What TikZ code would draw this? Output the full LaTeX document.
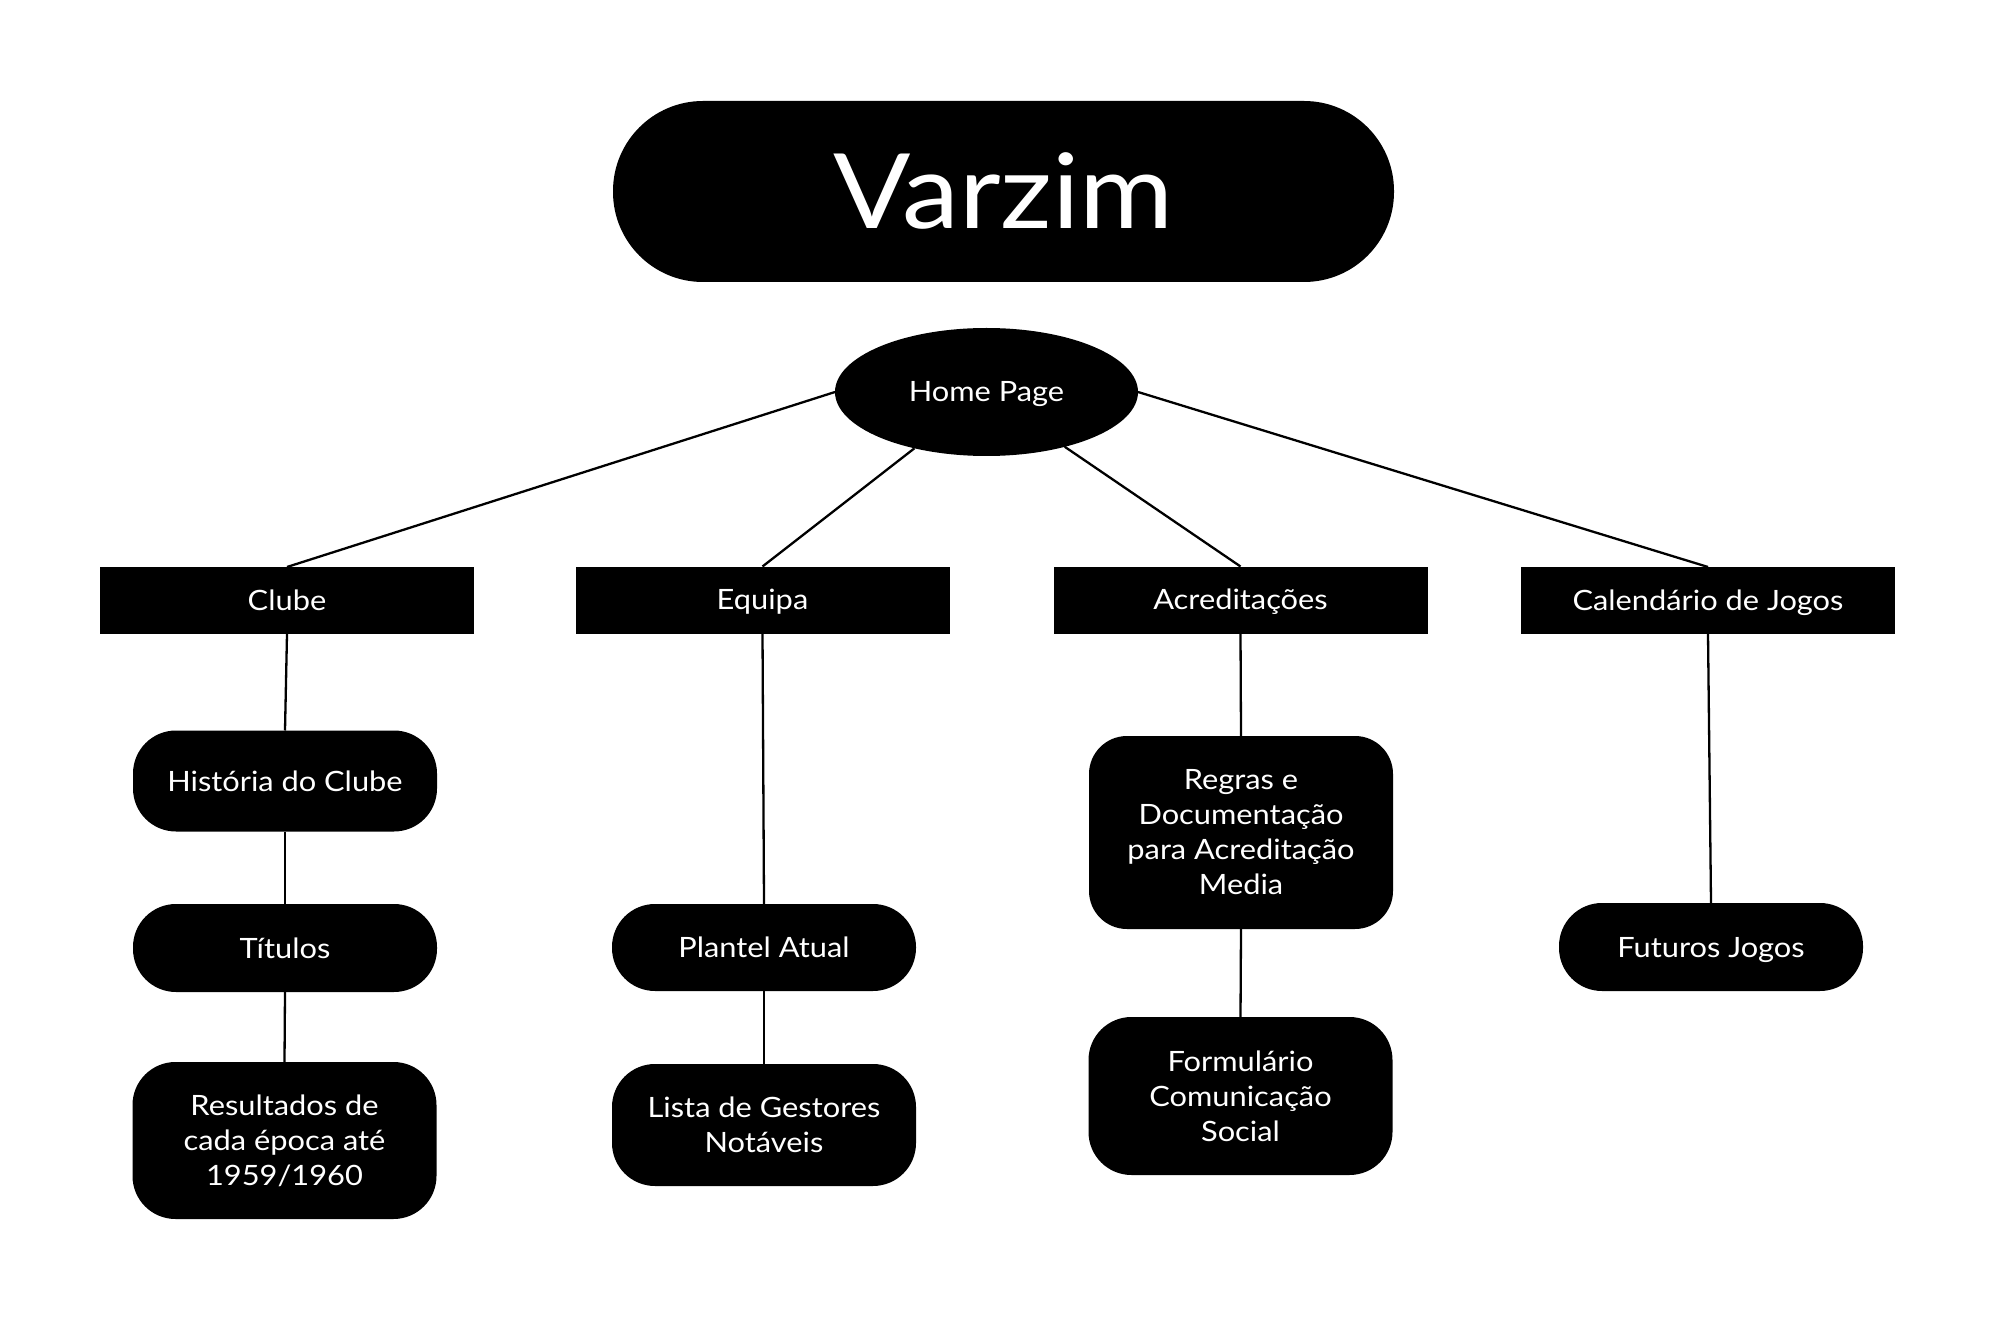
\documentclass[tikz,border=0pt]{standalone}
\usepackage{fontspec}
\setmainfont{Lato}[FakeStretch=1.1]
\usetikzlibrary{shapes.geometric}
\begin{document}
\begin{tikzpicture}[x=0.5pt,y=-0.5pt,
  base/.style={fill=black,text=white,inner sep=0pt,outer sep=0pt,align=center,font=\fontsize{14}{17.5}\selectfont},
  one/.style={text height=10pt,text depth=0pt},
  titlebox/.style={base,rectangle,rounded corners=45pt,minimum width=390.5pt,minimum height=90.5pt,font=\fontsize{52}{60}\selectfont,text height=37.3pt,text depth=0pt},
  hub/.style={base,ellipse,minimum width=151.5pt,minimum height=64pt},
  cat/.style={base,rectangle,minimum width=187pt,minimum height=33.5pt},
  leaf/.style={base,rectangle,rounded corners=21.5pt,minimum width=152pt},
  link/.style={line width=1.15pt,black}
]
\useasboundingbox (0,0) rectangle (1996,1320);
\fill[white] (0,0) rectangle (1996,1320);

\node[titlebox] (varzim) at (1003.5,191.5) {Varzim};
\node[hub,one] (home) at (986.5,392) {Home Page};

\node[cat,one] (clube) at (287,600.5) {Clube};
\node[cat,one] (equipa) at (762.5,600) {Equipa};
\node[cat,one] (acred) at (1240.5,600) {Acreditações};
\node[cat,one] (cal) at (1708,600.5) {Calendário de Jogos};

\node[leaf,one,minimum height=50.5pt] (hist) at (285,781) {História do Clube};
\node[leaf,one,minimum height=44pt] (tit) at (285,948) {Títulos};
\node[leaf,minimum height=78.5pt] (res) at (284.5,1140.5) {Resultados de\\cada época até\\1959/1960};

\node[leaf,one,minimum height=43.5pt] (plantel) at (764,947.5) {Plantel Atual};
\node[leaf,minimum height=61pt] (lista) at (764,1125) {Lista de Gestores\\Notáveis};

\node[leaf,minimum height=96.5pt,rounded corners=19pt] (regras) at (1241,832.5) {Regras e\\Documentação\\para Acreditação\\Media};
\node[leaf,minimum height=79pt] (form) at (1240.5,1096) {Formulário\\Comunicação\\Social};

\node[leaf,one,minimum height=44pt] (fut) at (1711,947) {Futuros Jogos};

\draw[link] (home.west) -- (clube.north);
\draw[link] (home.218) -- (equipa.north);
\draw[link] (home.-35) -- (acred.north);
\draw[link] (home.east) -- (cal.north);

\draw[link] (clube.south) -- (hist.north);
\draw[link] (hist.south) -- (tit.north);
\draw[link] (tit.south) -- (res.north);
\draw[link] (equipa.south) -- (plantel.north);
\draw[link] (plantel.south) -- (lista.north);
\draw[link] (acred.south) -- (regras.north);
\draw[link] (regras.south) -- (form.north);
\draw[link] (cal.south) -- (fut.north);
\end{tikzpicture}
\end{document}
